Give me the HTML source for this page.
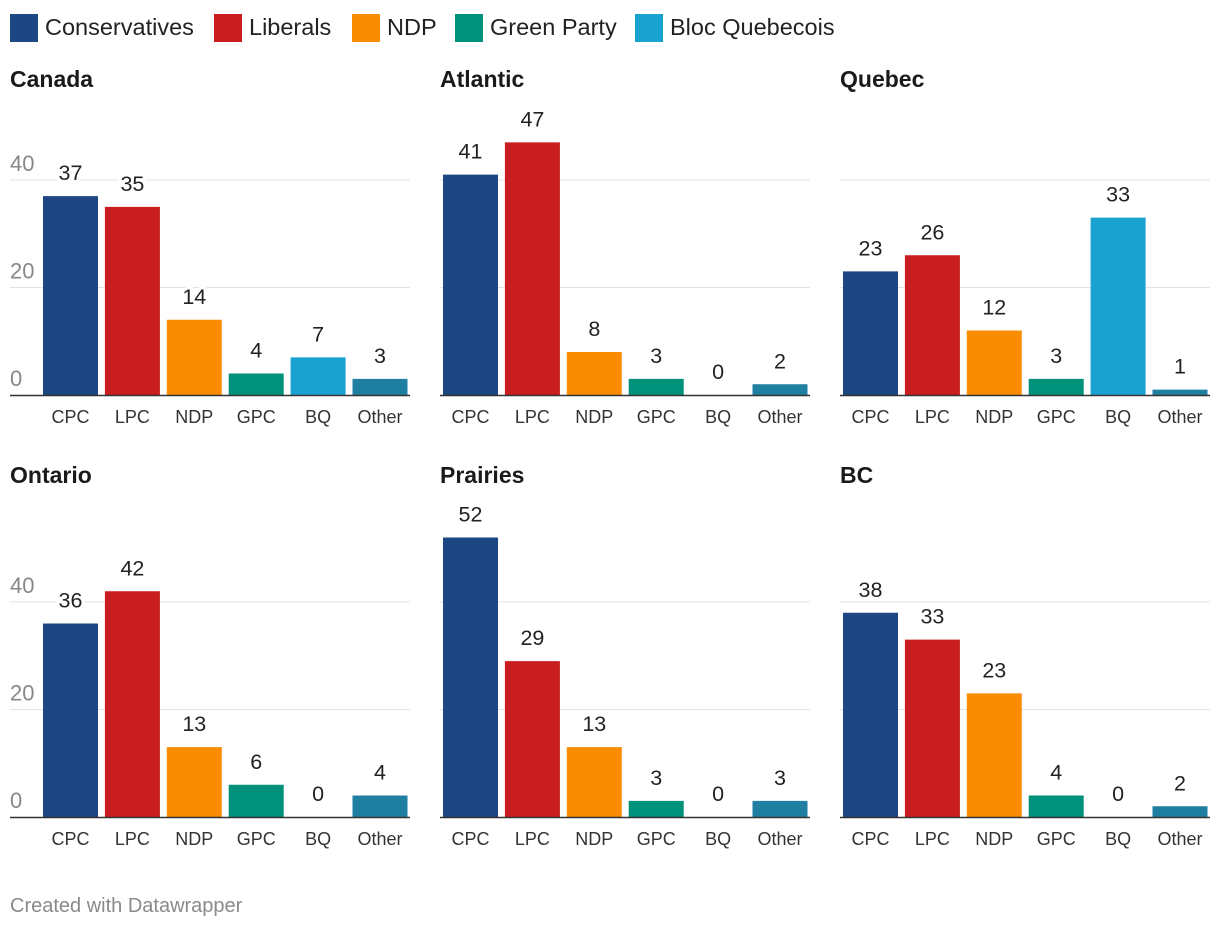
<!DOCTYPE html>
<html><head><meta charset="utf-8">
<style>
body{margin:0;background:#fff;width:1220px;height:928px;overflow:hidden;font-family:"Liberation Sans",Arial,sans-serif}
svg text{font-family:"Liberation Sans",Arial,sans-serif}
</style></head>
<body>
<svg id="chart" width="1220" height="928">
<g id="legend"></g>
<text x="10" y="912" font-size="20" fill="#8a8a8a">Created with Datawrapper</text>
</svg>
<script>
const categories = ["CPC","LPC","NDP","GPC","BQ","Other"];
const regions = ["Canada","Atlantic","Quebec","Ontario","Prairies","BC"];
const canada = [37,35,14,4,7,3];
const atlantic = [41,47,8,3,0,2];
const quebec = [23,26,12,3,33,1];
const ontario = [36,42,13,6,0,4];
const prairies = [52,29,13,3,0,3];
const bc = [38,33,23,4,0,2];
const ticks = [0,20,40];
const legendLabels = ["Conservatives","Liberals","NDP","Green Party","Bloc Quebecois"];

const seriesList = [canada,atlantic,quebec,ontario,prairies,bc];
const colors = ["#1c4782","#c91d1f","#f98c00","#00917a","#19a2d0","#1e7fa0"];
const NS = "http://www.w3.org/2000/svg";
const svg = document.getElementById("chart");
function mk(tag, attrs, parent){const e=document.createElementNS(NS,tag);for(const k in attrs)e.setAttribute(k,attrs[k]);(parent||svg).appendChild(e);return e;}

const lg = document.getElementById("legend");
const legendX = [10,214,352,455,635];
legendLabels.forEach((l,i)=>{
  const r = mk("rect",{x:legendX[i],y:14,width:28,height:28,fill:colors[i]},lg);
  
  
  const t = mk("text",{x:legendX[i]+35,y:35,"font-size":23.5,fill:"#222"},lg);
  t.textContent=l;
  
  
});

const panelX = [10,440,840];
const panelW = [400,370,370];
const baseY = [395,817];
const titleY = [87,483];
const scale = 107.5/20;
function yScale(v,row){return baseY[row]-v*scale;}

regions.forEach((name,p)=>{
  const col=p%3,row=Math.floor(p/3);
  const g = mk("g",{});
  
  
  const x0=panelX[col], w=panelW[col], by=baseY[row];
  const title = mk("text",{x:x0,y:titleY[row],"font-size":23,"font-weight":"bold",fill:"#1a1a1a"},g);
  title.textContent=name;
  
  
  ticks.forEach(t=>{
    if(t>0){
      const gl = mk("line",{x1:x0,x2:x0+w,y1:yScale(t,row),y2:yScale(t,row),stroke:"#e3e3e3","stroke-width":1},g);
      
      
    }
    if(col===0){
      const tl = mk("text",{x:x0,y:yScale(t,row)-9,"font-size":22,fill:"#888"},g);
      tl.textContent=t;
      
      
    }
  });
  const plotX = col===0? 43 : x0+3;
  const step=61.9, bw=55;
  seriesList[p].forEach((v,i)=>{
    const bx=plotX+i*step, top=yScale(v,row);
    const b = mk("rect",{x:bx,y:top,width:bw,height:by-top,fill:colors[i]},g);
    
    
    const vl = mk("text",{x:bx+bw/2,y:top-16,"font-size":21.5,"text-anchor":"middle",fill:"#222",stroke:"#fff","stroke-width":6,"paint-order":"stroke"},g);
    vl.textContent=v;
    
    
    const cl = mk("text",{x:bx+bw/2,y:by+28,"font-size":18,"text-anchor":"middle",fill:"#333"},g);
    cl.textContent=categories[i];
    
    
  });
  const ax = mk("line",{x1:x0,x2:x0+w,y1:by+0.5,y2:by+0.5,stroke:"#333","stroke-width":1.5},g);
  
  
});
</script>
</body></html>
